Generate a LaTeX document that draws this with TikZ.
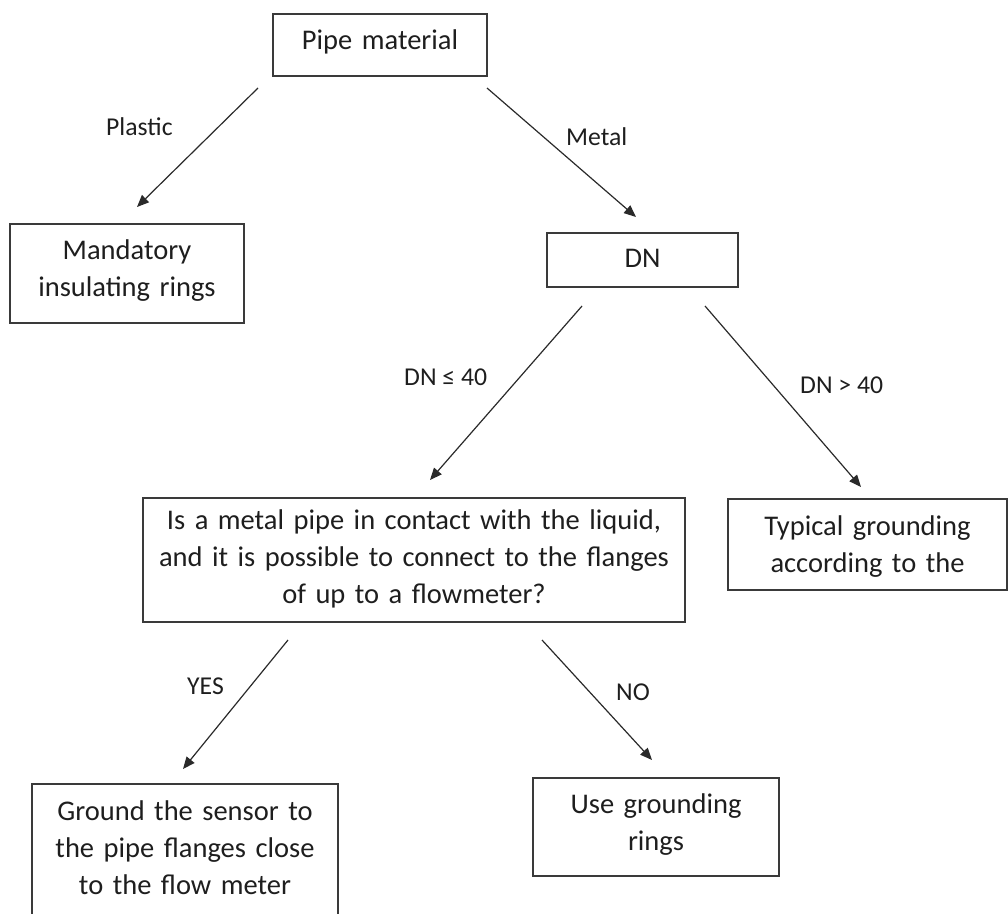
\documentclass[tikz,border=0pt]{standalone}
\usepackage{fontspec}
\setmainfont{Carlito}
\usetikzlibrary{arrows.meta,calc}
\definecolor{boxc}{HTML}{3A3A3A}
\definecolor{arrc}{HTML}{2A2A2A}
\definecolor{txtc}{HTML}{1E1E1E}
\begin{document}
\begin{tikzpicture}[x=1pt,y=-1pt,
  box/.style={draw=boxc, line width=1.4pt, inner sep=0pt, outer sep=0pt,
    anchor=north west, align=center, text=txtc,
    font=\fontsize{28.5}{37}\selectfont},
  lbl/.style={inner sep=0pt, anchor=base west, text=txtc,
    font=\fontsize{25.7}{31}\selectfont},
  arr/.style={draw=arrc, line width=1.2pt, -{Triangle[length=12pt,width=10pt]}}]
\useasboundingbox (0,0) rectangle (1008,913);
\clip (0,0) rectangle (1008,913);

% boxes
\node[box, text width=214pt, text height=35pt, text depth=27pt] (pipe) at (273,14) {Pipe material};
\node[box, text width=234pt, text height=35pt, text depth=64pt] (mand) at (10,224) {Mandatory\\insulating rings};
\node[box, text width=191pt, text height=34pt, text depth=20pt] (dn) at (547,233) {DN};
\node[box, text width=542pt, text height=31pt, text depth=93pt] (isq) at (143,498)
  {Is a metal pipe in contact with the liquid,\\and it is possible to connect to the flanges\\of up to a flowmeter?};
\node[box, text width=279pt, text height=36pt, text depth=55pt] (typ) at (728,499) {Typical grounding\\according to the};
\node[box, text width=306pt, text height=36pt, text depth=150pt] (grd) at (32,784) {Ground the sensor to\\the pipe flanges close\\to the flow meter};
\node[box, text width=246pt, text height=35pt, text depth=63pt] (use) at (533,778) {Use grounding\\rings};

% labels
\node[lbl] (lplastic) at (106,135) {Plastic};
\node[lbl] (lmetal) at (566,145) {Metal};
\node[lbl] (lle) at (404,385) {DN ≤ 40};
\node[lbl] (lgt) at (800,393) {DN > 40};
\node[lbl] (lyes) at (187,694) {YES};
\node[lbl] (lno) at (616,700) {NO};

% connectors
\draw[arr] ($(pipe.south west)+(-15,12)$) -- ($(mand.north west)+(127,-17)$);
\draw[arr] ($(pipe.south east)+(0,12)$) -- ($(dn.north west)+(89,-16)$);
\draw[arr] ($(dn.south west)+(35,19)$) -- ($(isq.north west)+(287,-18)$);
\draw[arr] ($(dn.south west)+(158,19)$) -- ($(typ.north west)+(133,-12)$);
\draw[arr] ($(isq.south west)+(145,18)$) -- ($(grd.north west)+(151,-15)$);
\draw[arr] ($(isq.south west)+(399,18)$) -- ($(use.north west)+(119,-18)$);
\end{tikzpicture}
\end{document}
